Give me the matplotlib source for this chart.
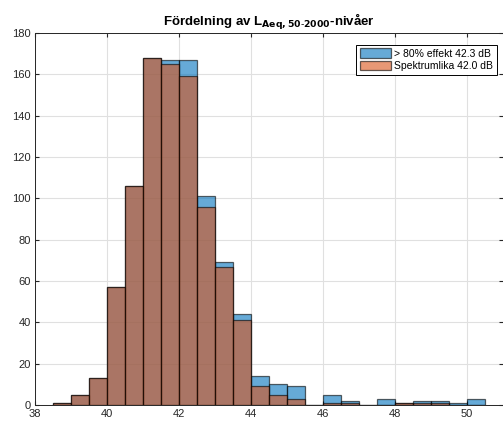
import numpy as np
import matplotlib
matplotlib.use('Agg')
import matplotlib.pyplot as plt

plt.rcParams['font.family'] = ['Liberation Sans', 'DejaVu Sans']

## Histogram bins (left edges) and counts
bin_left = np.arange(38.5, 50.5, 0.5)
counts_effekt = [1, 5, 13, 57, 106, 168, 167, 167, 101, 69, 44, 14,
                 10, 9, 0, 5, 2, 0, 3, 1, 2, 2, 1, 3]
counts_spektrum = [1, 5, 13, 57, 106, 168, 165, 159, 96, 67, 41, 9,
                   5, 3, 0, 1, 1, 0, 0, 1, 1, 1, 0, 0]
labels = ['> 80% effekt 42.3 dB', 'Spektrumlika 42.0 dB']
bin_width = 0.5

blue = (0, 0.447, 0.741)
orange = (0.85, 0.325, 0.098)

fig = plt.figure(figsize=(5.03, 4.21), dpi=100)
ax = fig.add_axes([35/503, 16/421, 468/503, 372/421])

ax.bar(bin_left, counts_effekt, width=bin_width, align='edge',
       color=blue, alpha=0.6, edgecolor='black', linewidth=0.9,
       label=labels[0], zorder=2)
ax.bar(bin_left, counts_spektrum, width=bin_width, align='edge',
       color=orange, alpha=0.6, edgecolor='black', linewidth=0.9,
       label=labels[1], zorder=3)

ax.set_xlim(38, 51)
ax.set_ylim(0, 180)
ax.set_xticks(np.arange(38, 51, 2))
ax.set_yticks(np.arange(0, 181, 20))
ax.grid(True, color='#e0e0e0', linewidth=0.8, zorder=0)
ax.set_axisbelow(True)
ax.tick_params(direction='in', length=3, labelsize=8, top=True, right=True,
               colors='#262626', pad=3)
for s in ax.spines.values():
    s.set_color('#262626')
    s.set_linewidth(0.7)

ax.set_title(r'Fördelning av L$_{\mathbf{Aeq,50\text{-}2000}}$-nivåer',
             fontsize=9.5, fontweight='bold', pad=5)

leg = ax.legend(loc='upper right', fontsize=7.5, fancybox=False,
                framealpha=1, edgecolor='black', borderpad=0.35,
                handlelength=3.0, handleheight=1.0, handletextpad=0.3,
                labelspacing=0.2, borderaxespad=0.6,
                bbox_to_anchor=(1.0, 0.985))
leg.get_frame().set_linewidth(0.7)

fig.savefig('out.png', dpi=100)
